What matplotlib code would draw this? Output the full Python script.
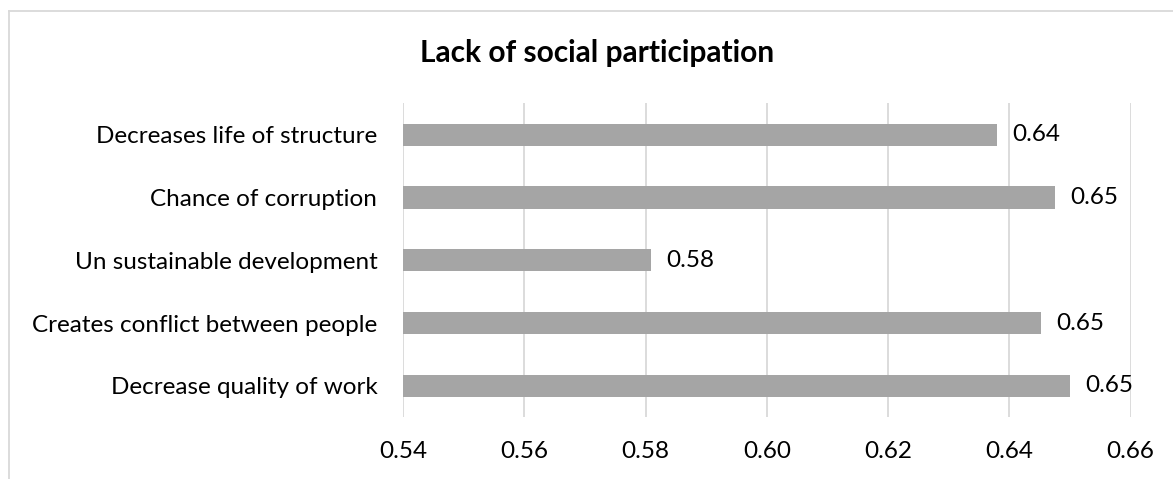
import matplotlib.pyplot as plt
from matplotlib.lines import Line2D

# Данные диаграммы (снизу вверх)
categories = [
    "Decrease quality of work",
    "Creates conflict between people",
    "Un sustainable development",
    "Chance of corruption",
    "Decreases life of structure",
]
values = [0.650, 0.6452, 0.5809, 0.6476, 0.638]
xticks = [0.54, 0.56, 0.58, 0.60, 0.62, 0.64, 0.66]

plt.rcParams['font.family'] = ['Lato', 'DejaVu Sans']

fig = plt.figure(figsize=(11.73, 4.79), dpi=100)
ax = fig.add_axes([0.3436, 0.1288, 0.9639 - 0.3436, 0.7843 - 0.1288])

grid_color = '#d9d9d9'
bar_color = '#a5a5a5'
fs = 17.5

ax.barh(range(len(categories)), values, height=0.355, left=0,
        color=bar_color, zorder=3)
ax.set_xlim(xticks[0], xticks[-1])
ax.set_ylim(-0.5, len(categories) - 0.5)

ax.set_xticks(xticks)
ax.set_xticklabels([f"{t:.2f}" for t in xticks], fontsize=fs)
ax.set_yticks(range(len(categories)))
ax.set_yticklabels(categories, fontsize=fs)
ax.tick_params(axis='both', length=0, colors='black')
ax.tick_params(axis='x', pad=17)
ax.tick_params(axis='y', pad=18.5)

ax.grid(axis='x', color=grid_color, linewidth=1.3, zorder=0)
for s in ax.spines.values():
    s.set_visible(False)

# подписи значений справа от столбцов
for i, v in enumerate(values):
    ax.annotate(f"{v:.2f}", xy=(v, i), xytext=(15, 0), textcoords='offset pixels',
                va='center', ha='left', fontsize=fs, color='black')

fig.text(0.509, 0.889, "Lack of social participation", ha='center', va='center',
         fontsize=21.5, fontweight='bold', color='black')

# рамка области диаграммы (видны только верх и левый край)
fig.add_artist(Line2D([9 / 1173, 9 / 1173], [0, 1 - 11 / 479],
                      transform=fig.transFigure, color=grid_color, linewidth=1.3))
fig.add_artist(Line2D([9 / 1173, 1], [1 - 11 / 479, 1 - 11 / 479],
                      transform=fig.transFigure, color=grid_color, linewidth=1.3))

fig.savefig('out.png', dpi=100)
